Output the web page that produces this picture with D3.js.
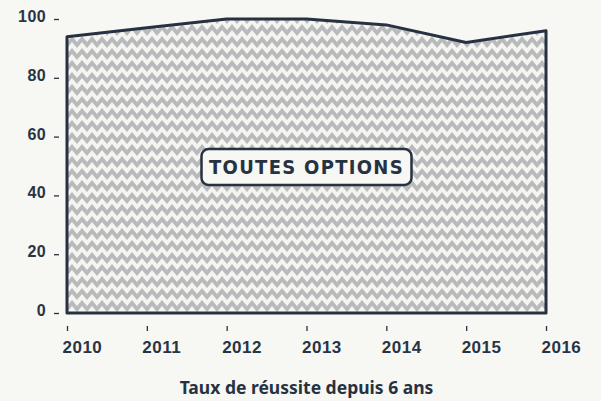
<!DOCTYPE html>
<html lang="fr">
<head>
<meta charset="UTF-8">
<script src="https://d3js.org/d3.v7.min.js"></script>
<title>Taux de réussite</title>
<style>
    body { margin: 0; background: #f7f7f3; }
    svg { display: block; }
    .tick text { font-family: "Liberation Sans", Arial, sans-serif; font-weight: bold; fill: #283444; }
</style>
</head>
<body>
<div id="chart"></div>
<script>
    // data
    const years = [2010, 2011, 2012, 2013, 2014, 2015, 2016];
    const rates = [94, 97, 100, 100, 98, 92, 96];
    const yTicks = [0, 20, 40, 60, 80, 100];
    const label = "TOUTES OPTIONS";
    const title = "Taux de réussite depuis 6 ans";

    const width = 601, height = 401;
    const margin = {top: 19, right: 55, bottom: 88, left: 67};
    const ink = "#263242";

    const svg = d3.select("#chart").append("svg")
        .attr("width", width)
        .attr("height", height);

    const x = d3.scaleLinear()
        .domain(d3.extent(years))
        .range([margin.left, width - margin.right]);
    const y = d3.scaleLinear()
        .domain([0, 100])
        .range([height - margin.bottom, margin.top]);

    // chevron pattern
    const pat = svg.append("defs").append("pattern")
        .attr("id", "chevron")
        .attr("patternUnits", "userSpaceOnUse")
        .attr("x", 2)
        .attr("width", 10).attr("height", 12);
    pat.append("rect").attr("width", 10).attr("height", 12).attr("fill", "#f4f4f0");
    pat.append("path")
        .attr("d", "M0,0 L5,6 L10,0 L10,6 L5,12 L0,6 Z")
        .attr("fill", "#b9babc");

    const data = years.map((yr, i) => ({year: yr, value: rates[i]}));

    const area = d3.area()
        .x(d => x(d.year))
        .y0(y(0))
        .y1(d => y(d.value));

    svg.append("path")
        .datum(data)
        .attr("d", area)
        .attr("fill", "url(#chevron)")
        .attr("stroke", ink)
        .attr("stroke-width", 3)
        .attr("stroke-linejoin", "round");

    // y axis
    const yAxis = svg.append("g")
        .attr("transform", `translate(${margin.left - 8},0)`)
        .call(d3.axisLeft(y).tickValues(yTicks).tickSize(5).tickPadding(8));
    yAxis.select(".domain").remove();
    yAxis.selectAll(".tick line").attr("stroke", ink).attr("stroke-width", 1.3);
    yAxis.selectAll(".tick text")
        .attr("font-size", 16)
        .attr("letter-spacing", 0.4)
        .attr("dy", "0.15em");

    // x axis
    const xAxis = svg.append("g")
        .attr("transform", `translate(0,${height - margin.bottom + 13})`)
        .call(d3.axisBottom(x).tickValues(years).tickFormat(d3.format("d")).tickSize(5).tickPadding(10));
    xAxis.select(".domain").remove();
    xAxis.selectAll(".tick line").attr("stroke", ink).attr("stroke-width", 1.3);
    // labels sit a little to the right of their tick
    xAxis.selectAll(".tick text")
        .attr("font-size", 17)
        .attr("letter-spacing", 0.5)
        .attr("text-anchor", "start")
        .attr("x", -5);

    // centre label
    const cx = (x.range()[0] + x.range()[1]) / 2;
    const cy = 167;
    const lab = svg.append("g");
    lab.append("rect")
        .attr("x", cx - 105).attr("y", cy - 18)
        .attr("width", 210).attr("height", 36)
        .attr("rx", 7)
        .attr("fill", "#f7f7f3")
        .attr("stroke", ink)
        .attr("stroke-width", 2.5);
    lab.append("text")
        .attr("x", cx).attr("y", cy)
        .attr("text-anchor", "middle")
        .attr("dominant-baseline", "central")
        .attr("font-family", "'DejaVu Sans Condensed', 'DejaVu Sans', sans-serif")
        .attr("font-weight", "bold")
        .attr("font-size", 20)
        .attr("letter-spacing", 1.3)
        .attr("fill", ink)
        .text(label);

    // title
    svg.append("text")
        .attr("x", cx).attr("y", 394)
        .attr("text-anchor", "middle")
        .attr("font-family", "'Noto Sans', sans-serif")
        .attr("font-weight", "bold")
        .attr("font-size", 17.5)
        .attr("fill", ink)
        .text(title);
</script>
</body>
</html>
